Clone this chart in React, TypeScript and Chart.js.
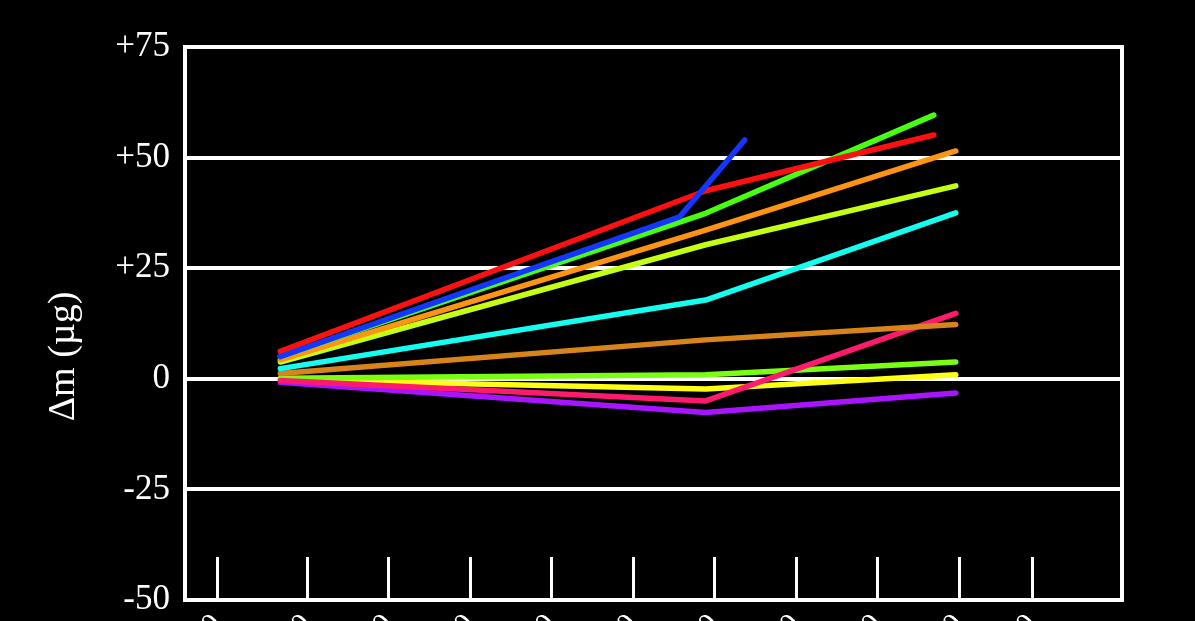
import React, { useEffect, useRef } from 'react';
import { Chart, registerables } from 'chart.js';

Chart.register(...registerables);

// ---- data ----
const X_TICKS = [-0.1, 1, 2, 3, 4, 5, 6, 7, 8, 9, 9.9];
const X_TICK_LABELS = ['0', '10', '20', '30', '40', '50', '60', '70', '80', '90', '100'];
const Y_TICKS = [-50, -25, 0, 25, 50, 75];
const Y_TITLE = 'Δm (µg)';

const X_MAIN = [0.67, 5.89, 8.96];
const X_SHORT = [0.67, 5.89, 8.69];
const X_BLUE = [0.67, 5.57, 6.37];

const blueVals = [5.0, 36.6, 54.0];
const redVals = [6.2, 42.5, 55.1];
const greenVals = [5.0, 37.4, 59.6];
const orangeVals = [4.3, 33.6, 51.5];
const yellowGreenVals = [3.8, 30.3, 43.6];
const cyanVals = [2.3, 17.8, 37.5];
const brownVals = [1.2, 8.8, 12.3];
const limeVals = [0.1, 0.9, 3.8];
const yellowVals = [-0.2, -2.3, 0.9];
const pinkVals = [-0.4, -5.0, 14.8];
const purpleVals = [-0.8, -7.6, -3.2];

const SERIES = [
  { name: 'blue', xs: X_BLUE, ys: blueVals, color: '#1536ff' },
  { name: 'red', xs: X_SHORT, ys: redVals, color: '#ff1010' },
  { name: 'green', xs: X_SHORT, ys: greenVals, color: '#48ff12' },
  { name: 'orange', xs: X_MAIN, ys: orangeVals, color: '#ff9414' },
  { name: 'yellowgreen', xs: X_MAIN, ys: yellowGreenVals, color: '#c4ff14' },
  { name: 'cyan', xs: X_MAIN, ys: cyanVals, color: '#14fff0' },
  { name: 'brown', xs: X_MAIN, ys: brownVals, color: '#d8841a' },
  { name: 'pink', xs: X_MAIN, ys: pinkVals, color: '#ff1a6e' },
  { name: 'lime', xs: X_MAIN, ys: limeVals, color: '#78ff12' },
  { name: 'yellow', xs: X_MAIN, ys: yellowVals, color: '#ffff14' },
  { name: 'purple', xs: X_MAIN, ys: purpleVals, color: '#a814ff' },
];

const FONT = '"Liberation Serif", "Times New Roman", serif';

const yTitlePlugin = {
  id: 'yTitlePlugin',
  afterDraw(chart: any) {
    const { ctx, chartArea } = chart;
    ctx.save();
    ctx.translate(64, (chartArea.top + chartArea.bottom) / 2 + 33);
    ctx.rotate(-Math.PI / 2);
    ctx.fillStyle = '#ffffff';
    ctx.font = `38px ${FONT}`;
    ctx.textAlign = 'center';
    ctx.textBaseline = 'middle';
    ctx.fillText(Y_TITLE, 0, 0);
    ctx.restore();
  },
};

export default function App() {
  const ref = useRef<HTMLCanvasElement>(null);
  useEffect(() => {
    const chart = new Chart(ref.current as HTMLCanvasElement, {
      type: 'line',
      data: {
        datasets: SERIES.map((s) => ({
          label: s.name,
          data: s.xs.map((x, i) => ({ x, y: s.ys[i] })),
          borderColor: s.color,
          backgroundColor: s.color,
          borderWidth: 5.5,
          borderCapStyle: 'round',
          borderJoinStyle: 'round',
          pointRadius: 0,
          tension: 0,
          fill: false,
        })),
      },
      options: {
        animation: false,
        responsive: true,
        maintainAspectRatio: false,
        layout: { padding: { top: 47, right: 73, left: 0, bottom: 0 } },
        plugins: { legend: { display: false }, tooltip: { enabled: false } },
        scales: {
          x: {
            type: 'linear',
            min: -0.5,
            max: 11.0,
            afterBuildTicks: (s: any) => {
              s.ticks = X_TICKS.map((v) => ({ value: v }));
            },
            afterFit: (s: any) => {
              s.height = 21;
              s.paddingLeft = 0;
              s.paddingRight = 0;
              s.paddingTop = 0;
              s.paddingBottom = 0;
            },
            grid: {
              drawOnChartArea: false,
              drawTicks: true,
              tickLength: -43,
              color: '#ffffff',
              lineWidth: 3,
            },
            border: { display: true, color: '#ffffff', width: 4 },
            ticks: {
              color: '#ffffff',
              font: { family: FONT, size: 30 },
              padding: 50,
              autoSkip: false,
              maxRotation: 45,
              minRotation: 45,
              callback: (_v: any, i: number) => X_TICK_LABELS[i],
            },
          },
          y: {
            min: -50,
            max: 75,
            afterBuildTicks: (s: any) => {
              s.ticks = Y_TICKS.map((v) => ({ value: v }));
            },
            afterFit: (s: any) => {
              s.width = 185;
              s.paddingTop = 0;
              s.paddingBottom = 0;
            },
            grid: { color: '#ffffff', lineWidth: 4, drawTicks: false },
            border: { display: true, color: '#ffffff', width: 4 },
            ticks: {
              color: '#ffffff',
              font: { family: FONT, size: 35 },
              padding: 15,
              callback: (v: any) => (v > 0 ? '+' + v : String(v)),
            },
          },
          y2: {
            position: 'right',
            min: -50,
            max: 75,
            afterFit: (s: any) => {
              s.width = 0;
              s.paddingTop = 0;
              s.paddingBottom = 0;
            },
            grid: { drawOnChartArea: false, drawTicks: false },
            border: { display: true, color: '#ffffff', width: 4 },
            ticks: { display: false },
          },
        },
      } as any,
      plugins: [yTitlePlugin],
    });
    return () => chart.destroy();
  }, []);
  return (
    <div
      style={{
        position: 'fixed',
        left: 0,
        top: 0,
        width: 1195,
        height: 621,
        background: '#000000',
        overflow: 'hidden',
      }}
    >
      <canvas ref={ref} />
    </div>
  );
}
